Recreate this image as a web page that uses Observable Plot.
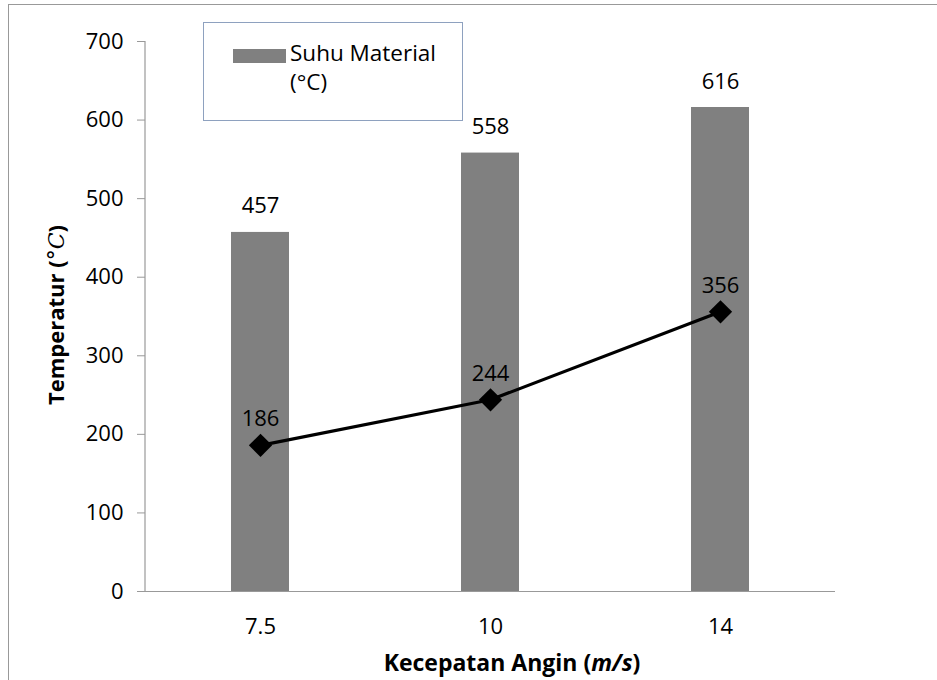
<!DOCTYPE html>
<html>
<head>
<meta charset="utf-8">
<script src="https://cdn.jsdelivr.net/npm/d3@7"></script>
<script src="https://cdn.jsdelivr.net/npm/@observablehq/plot@0.6"></script>
<style>
  html, body { margin: 0; padding: 0; background: #fff; overflow: hidden; }
  #wrap { position: relative; width: 937px; height: 680px; overflow: hidden; font-family: "Open Sans", sans-serif; }
  #frame { position: absolute; left: 8px; top: 4px; width: 1200px; height: 1000px; border-left: 1.5px solid #999; border-top: 1.5px solid #999; }
  #legend { position: absolute; left: 203px; top: 22px; width: 258px; height: 97px; border: 1.5px solid #8ea1bf; background: #fff; }
  #legend .sw { position: absolute; left: 29px; top: 26px; width: 53px; height: 14px; background: #808080; }
  #legend .tx { position: absolute; left: 86px; top: 15px; font-size: 22.5px; line-height: 29px; color: #000; white-space: nowrap; }
  #chart { position: absolute; left: 0; top: 0; }
</style>
</head>
<body>
<div id="wrap">
  <div id="frame"></div>
  <div id="chart"></div>
  <div id="legend"><div class="sw"></div><div class="tx">Suhu Material<br>(°C)</div></div>
</div>
<script>
const categories = ["7.5", "10", "14"];
const suhuMaterial = [457, 558, 616];
const lineSeries = [186, 244, 356];
const yTicks = [0, 100, 200, 300, 400, 500, 600, 700];

const bars = categories.map((c, i) => ({ cat: c, value: suhuMaterial[i] }));
const points = categories.map((c, i) => ({ cat: c, value: lineSeries[i] }));

const fontSize = 22;

const plot = Plot.plot({
  width: 937,
  height: 680,
  marginLeft: 145,
  marginRight: 102,
  marginTop: 41,
  marginBottom: 89,
  style: { fontFamily: "'Open Sans', sans-serif", fontSize: fontSize + "px", color: "#000", background: "transparent" },
  x: { domain: categories, paddingInner: 0.75, paddingOuter: 0.375, label: null },
  y: { domain: [0, 700], label: null },
  marks: [
    Plot.barY(bars, { x: "cat", y: "value", fill: "#808080" }),
    Plot.ruleY([0], { stroke: "#999", strokeWidth: 1.2 }),
    Plot.axisY({ ticks: yTicks, tickSize: 8, tickPadding: 14, stroke: "#999", tickFormat: d => d, fontSize: fontSize, fill: "#000", label: null }),
    Plot.axisX({ tickSize: 0, tickPadding: 27, fontSize: fontSize, fill: "#000", label: null }),
    Plot.text(bars, { x: "cat", y: "value", text: d => String(d.value), lineAnchor: "bottom", dy: -19, fontSize: fontSize, fill: "#000" }),
    Plot.line(points, { x: "cat", y: "value", stroke: "#000", strokeWidth: 3.2 }),
    Plot.dot(points, { x: "cat", y: "value", symbol: "diamond2", r: 10.5, fill: "#000", stroke: "none" }),
    Plot.text(points, { x: "cat", y: "value", text: d => String(d.value), lineAnchor: "bottom", dy: -19, fontSize: fontSize, fill: "#000" })
  ]
});

document.getElementById("chart").appendChild(plot);

const svg = d3.select(plot);
const x = plot.scale("x"), y = plot.scale("y");
// y-axis line
svg.append("line")
  .attr("x1", x.range[0]).attr("x2", x.range[0]).attr("y1", y.apply(700)).attr("y2", y.apply(0))
  .attr("stroke", "#999").attr("stroke-width", 1.2);

// Axis titles with mixed styling
const yt = svg.append("text")
  .attr("transform", "translate(64,315) rotate(-90)")
  .attr("text-anchor", "middle")
  .style("font-family", "'Open Sans', sans-serif")
  .style("font-size", "22px")
  .style("font-weight", "bold")
  .attr("fill", "#000");
yt.append("tspan").text("Temperatur (");
yt.append("tspan").style("font-weight", "normal").style("font-style", "italic").style("font-family", "'DejaVu Serif', serif").text("°C");
yt.append("tspan").text(")");

const xt = svg.append("text")
  .attr("x", 512).attr("y", 671)
  .attr("text-anchor", "middle")
  .style("font-family", "'Open Sans', sans-serif")
  .style("font-size", "23px")
  .style("font-weight", "bold")
  .attr("fill", "#000");
xt.append("tspan").text("Kecepatan Angin (");
xt.append("tspan").style("font-style", "italic").text("m/s");
xt.append("tspan").text(")");
</script>
</body>
</html>
